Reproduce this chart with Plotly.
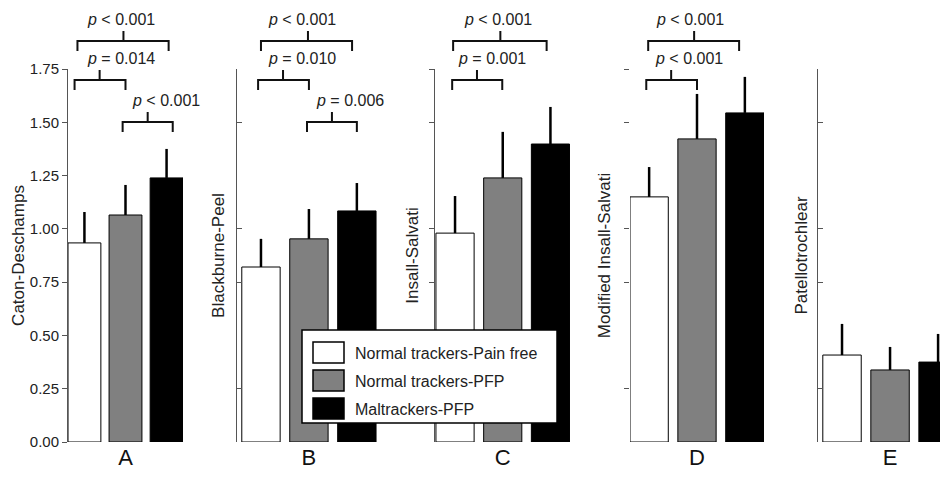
import plotly.graph_objects as go

# ---------------- data ----------------
panels = ["A", "B", "C", "D", "E"]
y_titles = ["Caton-Deschamps", "Blackburne-Peel", "Insall-Salvati",
            "Modified Insall-Salvati", "Patellotrochlear"]
groups = ["Normal trackers-Pain free", "Normal trackers-PFP", "Maltrackers-PFP"]
group_colors = ["#ffffff", "#808080", "#000000"]

means_A = [0.934, 1.065, 1.239]
sd_A = [0.145, 0.141, 0.136]
means_B = [0.821, 0.953, 1.084]
sd_B = [0.132, 0.140, 0.131]
means_C = [0.980, 1.239, 1.398]
sd_C = [0.174, 0.216, 0.174]
means_D = [1.150, 1.422, 1.544]
sd_D = [0.140, 0.211, 0.169]
means_E = [0.408, 0.338, 0.375]
sd_E = [0.146, 0.108, 0.132]

y_ticks_A = [0, 0.25, 0.5, 0.75, 1.0, 1.25, 1.5, 1.75]
y_ticks_other = [0.25, 0.75, 1.0, 1.5, 1.75]

# p-value comparisons per panel: (group i, group j, label)
p_A = [(0, 2, "< 0.001"), (0, 1, "= 0.014"), (1, 2, "< 0.001")]
p_B = [(0, 2, "< 0.001"), (0, 1, "= 0.010"), (1, 2, "= 0.006")]
p_C = [(0, 2, "< 0.001"), (0, 1, "= 0.001")]
p_D = [(0, 2, "< 0.001"), (0, 1, "< 0.001")]
p_E = []

means = [means_A, means_B, means_C, means_D, means_E]
sds = [sd_A, sd_B, sd_C, sd_D, sd_E]
pvals = [p_A, p_B, p_C, p_D, p_E]

# ---------------- layout geometry ----------------
# the page keeps the browser's 8px body margin, so the figure is sized to fit
OFF = 8
W, H = 948 - 2 * OFF, 479 - 2 * OFF
FONT = "Liberation Sans, Arial, sans-serif"
TXT = "#222222"


def px_x(p):
    return min(max((p - OFF) / W, 0.0), 1.0)


def py(p):
    return 1 - (p - OFF) / H


domains = [(68, 183), (237, 377), (435, 570), (630, 764), (818, 940)]
xranges = [(-0.4, 2.4), (-0.5, 2.42), (-0.42, 2.41), (-0.4, 2.4), (-0.5, 2.04)]
title_standoff = [0, 7, 6, 9, 5]
tick_dir = ["outside", "inside", "outside", "outside", "inside"]
show_line = [True, True, True, False, True]

# bracket geometry per panel, in bar-index units: (left, right, centre tick, text x)
bracket_geom = [
    [(-0.17, 2.05, 0.95, 0.89), (-0.24, 1.0, 0.37, 0.88), (0.93, 2.15, 1.54, 1.98)],
    [(0.0, 1.9, 0.98, 0.85), (-0.06, 1.0, 0.46, 0.85), (0.96, 2.0, 1.48, 1.85)],
    [(-0.04, 1.92, 0.95, 0.90), (-0.06, 0.99, 0.46, 0.78)],
    [(-0.02, 1.88, 0.94, 0.86), (-0.06, 1.0, 0.46, 0.84)],
    [],
]
# levels: (line y, text centre y) in pixels
levels = [(41, 19), (80, 59), (122, 100)]
DROP = 10

fig = go.Figure()
shapes = []
annotations = []

for k, name in enumerate(panels):
    sfx = "" if k == 0 else str(k + 1)
    fig.add_trace(go.Bar(
        x=[0, 1, 2], y=means[k],
        width=0.8,
        marker=dict(color=group_colors, line=dict(color="#000000", width=1)),
        error_y=dict(type="data", symmetric=False, array=sds[k],
                     arrayminus=[0, 0, 0], width=0, thickness=2.5, color="#000000"),
        xaxis="x" + sfx, yaxis="y" + sfx, showlegend=False,
        hovertext=groups,
    ))
    d0, d1 = domains[k]
    fig.layout["xaxis" + sfx] = dict(
        domain=[px_x(d0), px_x(d1)], range=list(xranges[k]),
        anchor="y" + sfx, showgrid=False, zeroline=False, showline=False,
        automargin=False,
        ticks="", tickvals=[1], ticktext=[name],
        tickfont=dict(family=FONT, size=22, color="#111111"),
        ticklabelstandoff=0,
    )
    fig.layout["yaxis" + sfx] = dict(
        domain=[py(442), py(69)], range=[0, 1.75], anchor="x" + sfx,
        showgrid=False, zeroline=False, automargin=False,
        showline=show_line[k], linecolor="#555555", linewidth=1,
        ticks=tick_dir[k], ticklen=5, tickcolor="#555555",
        tickvals=y_ticks_A if k == 0 else y_ticks_other,
        showticklabels=(k == 0), tickformat=".2f",
        tickfont=dict(family=FONT, size=15, color=TXT),
        title=dict(text=y_titles[k], font=dict(family=FONT, size=17, color=TXT),
                   standoff=title_standoff[k]),
    )
    # brackets
    for (i, j, lab), (xl, xr, xc, xt), (ly, ty) in zip(pvals[k], bracket_geom[k], levels):
        path = (f"M {xl},{py(ly + DROP)} L {xl},{py(ly)} L {xr},{py(ly)} L {xr},{py(ly + DROP)} "
                f"M {xc},{py(ly)} L {xc},{py(ly - DROP)}")
        shapes.append(dict(type="path", path=path, xref="x" + sfx, yref="paper",
                           line=dict(color="#111111", width=2)))
        annotations.append(dict(
            x=xt, y=py(ty), xref="x" + sfx, yref="paper",
            text="<i>p</i> " + lab.replace("<", "&lt;"), showarrow=False,
            font=dict(family=FONT, size=16, color=TXT), xanchor="center", yanchor="middle",
        ))

# manual legend box
shapes.append(dict(type="rect", xref="paper", yref="paper",
                   x0=px_x(302), x1=px_x(557), y0=py(423), y1=py(330),
                   line=dict(color="#000000", width=1.5), fillcolor="#ffffff"))
rows = [(342, 363), (370, 391), (398, 419)]
for g, col, (r0, r1) in zip(groups, group_colors, rows):
    shapes.append(dict(type="rect", xref="paper", yref="paper",
                       x0=px_x(313), x1=px_x(344), y0=py(r1), y1=py(r0),
                       line=dict(color="#000000", width=1.5), fillcolor=col))
    annotations.append(dict(x=px_x(353), y=py((r0 + r1) / 2 + 1), xref="paper", yref="paper",
                            text=g, showarrow=False, xanchor="left", yanchor="middle",
                            font=dict(family=FONT, size=16, color=TXT)))

fig.update_layout(
    template="none",
    width=W, height=H, autosize=False,
    margin=dict(l=0, r=0, t=0, b=0, pad=0),
    paper_bgcolor="#ffffff", plot_bgcolor="#ffffff",
    shapes=shapes, annotations=annotations,
    bargap=0.2, showlegend=False,
)

fig.write_html("out.html")
